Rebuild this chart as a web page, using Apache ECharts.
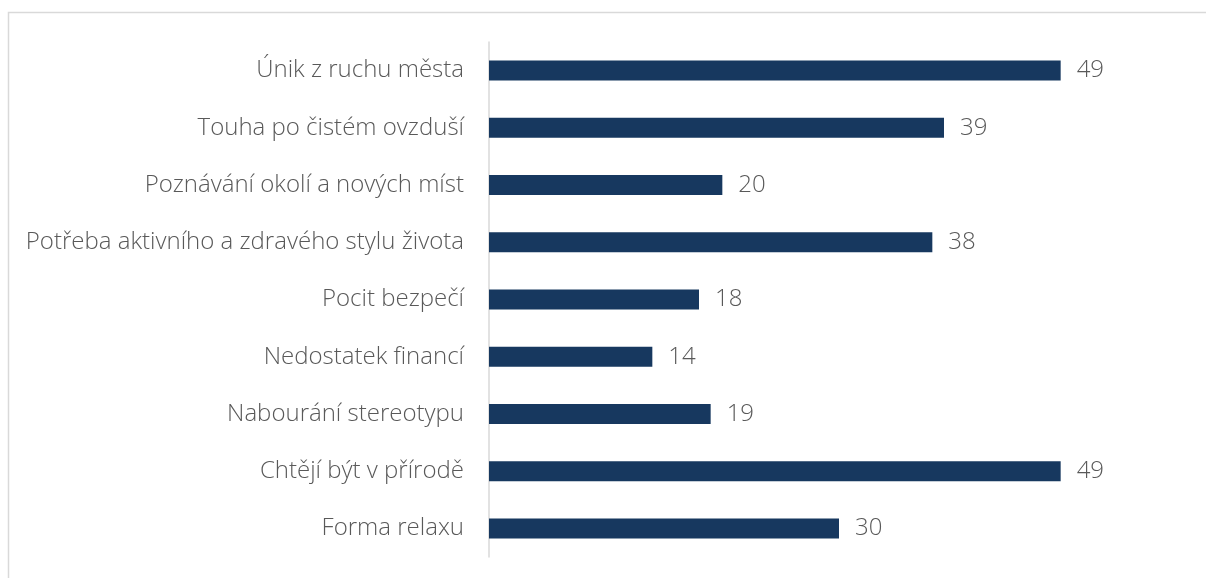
<!DOCTYPE html>
<html>
<head>
<meta charset="utf-8">
<script src="https://cdn.jsdelivr.net/npm/echarts@6/dist/echarts.min.js"></script>
<style>
html,body{margin:0;padding:0;background:#fff;}
#chart{width:1206px;height:578px;}
</style>
</head>
<body>
<div id="chart"></div>
<script>
const categories = [
  "Únik z ruchu města",
  "Touha po čistém ovzduší",
  "Poznávání okolí a nových míst",
  "Potřeba aktivního a zdravého stylu života",
  "Pocit bezpečí",
  "Nedostatek financí",
  "Nabourání stereotypu",
  "Chtějí být v přírodě",
  "Forma relaxu"
];
const values = [49, 39, 20, 38, 18, 14, 19, 49, 30];

const chart = echarts.init(document.getElementById('chart'), null, {renderer: 'canvas'});
chart.setOption({
  backgroundColor: '#ffffff',
  animation: false,
  graphic: [{
    type: 'rect',
    shape: {x: 8.5, y: 12.5, width: 1220, height: 600},
    style: {fill: 'none', stroke: '#d9d9d9', lineWidth: 1.5},
    silent: true
  }],
  grid: {left: 489, right: 17, top: 42, bottom: 21, containLabel: false},
  xAxis: {
    type: 'value',
    min: 0,
    max: 60,
    show: false
  },
  yAxis: {
    type: 'category',
    inverse: true,
    data: categories,
    axisLine: {show: true, lineStyle: {color: '#d9d9d9', width: 1.5}},
    axisTick: {show: false},
    axisLabel: {
      margin: 25,
      color: '#595959',
      fontFamily: 'Open Sans',
      fontWeight: 300,
      fontSize: 24,
      padding: [4, 0, 0, 0]
    }
  },
  series: [{
    type: 'bar',
    data: values,
    barWidth: 20,
    itemStyle: {color: '#17385F'},
    label: {
      show: true,
      position: 'right',
      distance: 16,
      color: '#595959',
      fontFamily: 'Open Sans',
      fontWeight: 300,
      fontSize: 24,
      padding: [4, 0, 0, 0]
    }
  }]
});
</script>
</body>
</html>
